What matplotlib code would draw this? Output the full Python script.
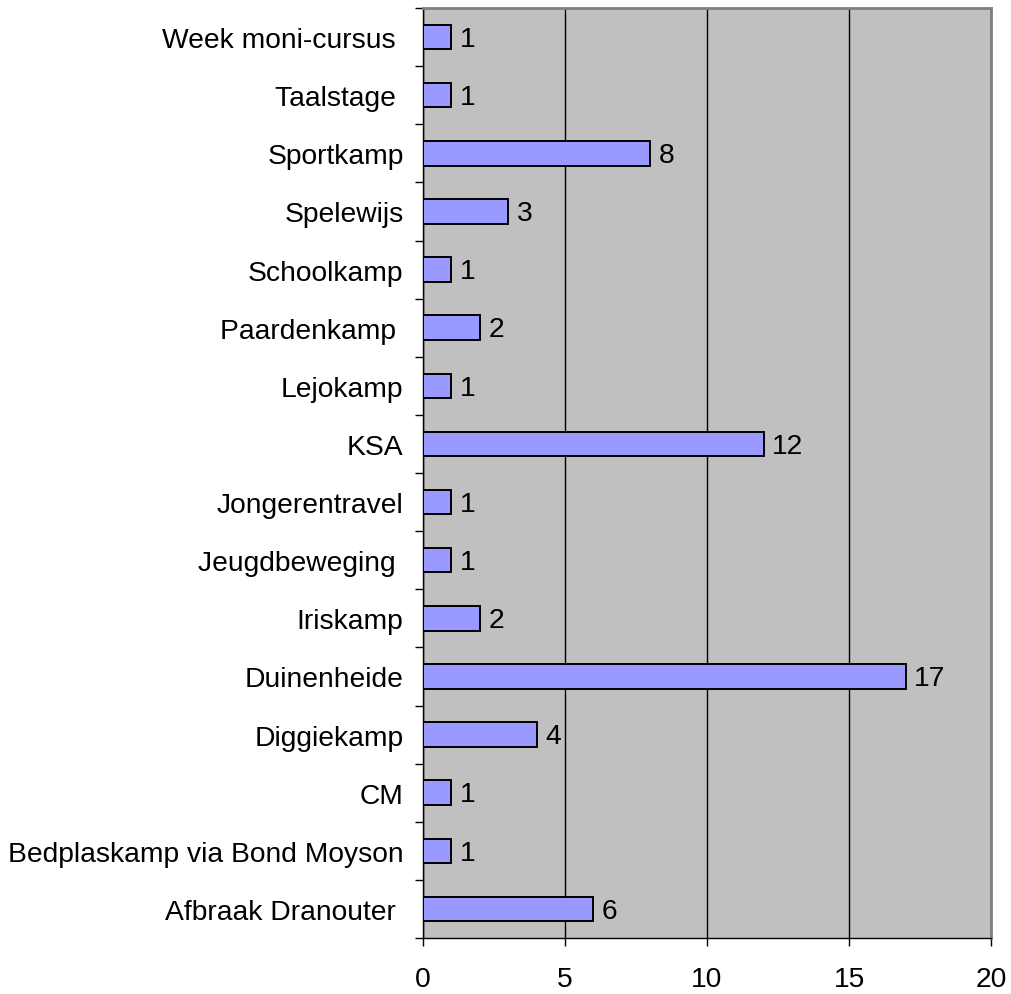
import numpy as np
import matplotlib
matplotlib.use('Agg')
import matplotlib.pyplot as plt
from matplotlib import rcParams

rcParams['font.family'] = ['Liberation Sans', 'DejaVu Sans']

# categories bottom -> top
labels = ['Afbraak Dranouter ', 'Bedplaskamp via Bond Moyson', 'CM', 'Diggiekamp',
          'Duinenheide', 'Iriskamp', 'Jeugdbeweging ', 'Jongerentravel', 'KSA',
          'Lejokamp', 'Paardenkamp ', 'Schoolkamp', 'Spelewijs', 'Sportkamp',
          'Taalstage ', 'Week moni-cursus ']
counts = [6, 1, 1, 4, 17, 2, 1, 1, 12, 1, 2, 1, 3, 8, 1, 1]
xticks = [0, 5, 10, 15, 20]

W, H = 1011, 995
fig = plt.figure(figsize=(W / 100, H / 100), dpi=100)
ax = fig.add_axes([423 / W, (H - 939) / H, 568 / W, 930 / H])
ax.set_facecolor('#C0C0C0')

y = np.arange(len(labels))
bars = ax.barh(y, counts, height=0.42, color='#9999FF', edgecolor='black', linewidth=1.4, zorder=3)
for b, v in zip(bars, counts):
    ax.text(b.get_width() + 0.3, b.get_y() + b.get_height() / 2 - 0.03, str(v),
            va='center', ha='left', fontsize=20.3, zorder=4)

ax.set_xlim(0, 20)
ax.set_ylim(-0.5, len(labels) - 0.5)
ax.set_xticks(xticks)
ax.xaxis.grid(True, color='black', linewidth=1)
ax.set_axisbelow(True)

ax.set_yticks(y)
ax.set_yticklabels(labels, fontsize=20.3)
ax.set_yticks(np.arange(len(labels) + 1) - 0.5, minor=True)
ax.tick_params(axis='y', which='major', length=0, pad=14)
ax.tick_params(axis='y', which='minor', length=6, width=1, direction='out')
ax.tick_params(axis='x', length=6, width=1, direction='out', labelsize=20.3, pad=14)

for s in ['top', 'right']:
    ax.spines[s].set_color('#808080')
    ax.spines[s].set_linewidth(2)
for s in ['left', 'bottom']:
    ax.spines[s].set_color('black')
    ax.spines[s].set_linewidth(1)

plt.savefig('out.png', dpi=100)
plt.close()
